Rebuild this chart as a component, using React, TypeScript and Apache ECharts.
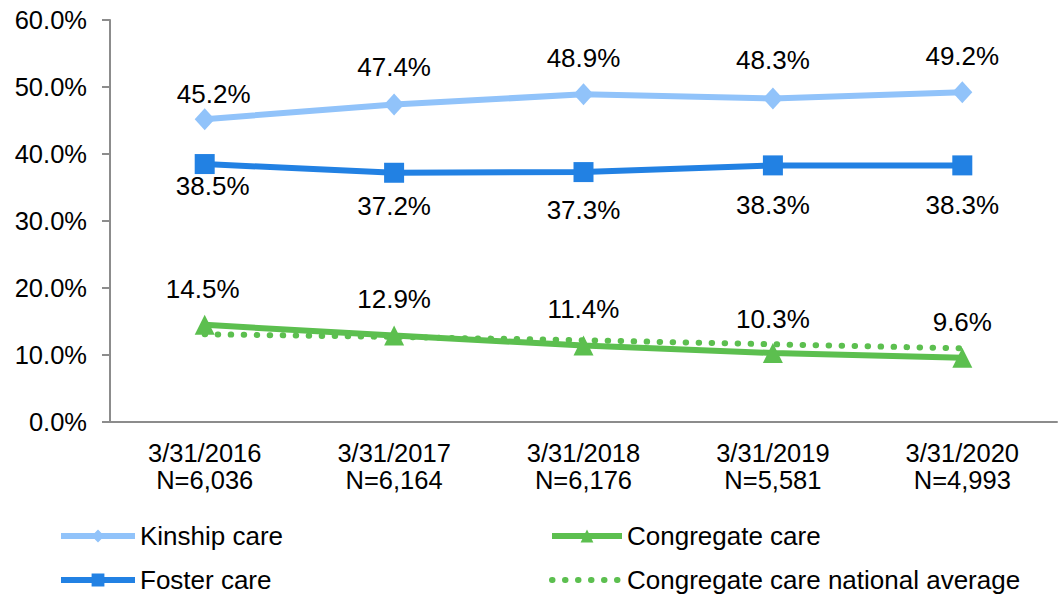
import React, { useEffect, useRef } from "react";
import * as echarts from "echarts";

const categories = [
  "3/31/2016\nN=6,036",
  "3/31/2017\nN=6,164",
  "3/31/2018\nN=6,176",
  "3/31/2019\nN=5,581",
  "3/31/2020\nN=4,993",
];
const kinship = [45.2, 47.4, 48.9, 48.3, 49.2];
const foster = [38.5, 37.2, 37.3, 38.3, 38.3];
const congregate = [14.5, 12.9, 11.4, 10.3, 9.6];
const nationalAvg = [13.1, 12.7, 12.2, 11.6, 11.0];
const yTicks = [0, 10, 20, 30, 40, 50, 60];

const kinDist = [1, 13, 12, 14, 12];
const fosDist = [-1, 10, 15, 17, 17];
const conDist = [13, 14, 14, 11, 13];
const kinShift = [9, 0, 0, 0, 0];
const fosShift = [8, 0, 0, 0, 0];
const conShift = [-2, 0, 0, 0, 0];

const FONT = "'Liberation Sans', Arial, sans-serif";
const C_KIN = "#91C3FA";
const C_FOS = "#2281E3";
const C_CON = "#5CBF4F";

const withDist = (vals: number[], dist: number[], shift: number[]) =>
  vals.map((v, i) => ({ value: v, label: { distance: dist[i], offset: [shift[i], 0] } }));

export default function App() {
  const ref = useRef<HTMLDivElement>(null);
  useEffect(() => {
    if (!ref.current) return;
    const chart = echarts.init(ref.current, undefined, { renderer: "svg" });
    const label = (pos: string) => ({
      show: true,
      position: pos,
      formatter: (p: any) => `${Number(p.value).toFixed(1)}%`,
      fontFamily: FONT,
      fontSize: 26,
      color: "#000",
    });
    const legendText = { fontFamily: FONT, fontSize: 26, color: "#000", lineHeight: 26 };
    chart.setOption({
      animation: false,
      grid: { left: 110, right: 1, top: 20, bottom: 179, containLabel: false },
      legend: [
        {
          data: ["Kinship care", "Foster care"],
          orient: "vertical",
          left: 58,
          top: 523,
          padding: 0,
          itemWidth: 74,
          itemHeight: 16,
          itemGap: 18,
          lineStyle: { width: 6 },
          textStyle: legendText,
        },
        {
          data: [
            "Congregate care",
            { name: "Congregate care national average", itemStyle: { opacity: 0 } },
          ],
          orient: "vertical",
          left: 549,
          top: 523,
          padding: 0,
          itemWidth: 70,
          itemHeight: 16,
          itemGap: 18,
          lineStyle: { width: 6 },
          textStyle: legendText,
        },
      ],
      xAxis: {
        type: "category",
        data: categories,
        boundaryGap: true,
        axisLine: { lineStyle: { color: "#8C8C8C", width: 2 } },
        axisTick: { show: false },
        axisLabel: {
          fontFamily: FONT,
          fontSize: 25.5,
          color: "#000",
          lineHeight: 27,
          margin: 17,
        },
      },
      yAxis: {
        type: "value",
        min: 0,
        max: 60,
        interval: 10,
        axisLine: { show: true, lineStyle: { color: "#8C8C8C", width: 2 } },
        axisTick: { show: true, length: 8, lineStyle: { color: "#8C8C8C", width: 2 } },
        splitLine: { show: false },
        axisLabel: {
          fontFamily: FONT,
          fontSize: 25.5,
          color: "#000",
          margin: 23,
          formatter: (v: number) => (yTicks.includes(v) ? `${v.toFixed(1)}%` : ""),
        },
      },
      series: [
        {
          name: "Kinship care",
          type: "line",
          data: withDist(kinship, kinDist, kinShift),
          symbol: "diamond",
          symbolSize: [20, 22],
          itemStyle: { color: C_KIN },
          lineStyle: { color: C_KIN, width: 6 },
          label: label("top"),
          z: 3,
        },
        {
          name: "Foster care",
          type: "line",
          data: withDist(foster, fosDist, fosShift),
          symbol: "rect",
          symbolSize: 20,
          itemStyle: { color: C_FOS },
          lineStyle: { color: C_FOS, width: 6 },
          label: label("bottom"),
          z: 3,
        },
        {
          name: "Congregate care",
          type: "line",
          data: withDist(congregate, conDist, conShift),
          symbol: "triangle",
          symbolSize: [20, 20],
          itemStyle: { color: C_CON },
          lineStyle: { color: C_CON, width: 6 },
          label: label("top"),
          z: 3,
        },
        {
          name: "Congregate care national average",
          type: "line",
          data: nationalAvg,
          symbol: "none",
          itemStyle: { color: C_CON },
          lineStyle: { color: C_CON, width: 6, type: [0.5, 12.5], cap: "round" },
          z: 2,
        },
      ],
    });
    return () => chart.dispose();
  }, []);
  return (
    <div
      ref={ref}
      style={{ position: "fixed", left: 0, top: 0, width: 1058, height: 601, background: "#fff" }}
    />
  );
}
